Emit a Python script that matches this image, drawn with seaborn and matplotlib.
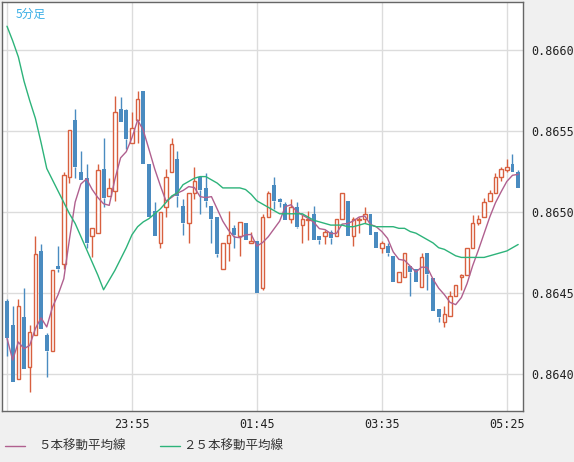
import numpy as np
import pandas as pd
import matplotlib
matplotlib.use("Agg")
import matplotlib.pyplot as plt
from matplotlib.lines import Line2D
import seaborn as sns

# OHLC in units of 0.00001
opens = [86445,86430,86397,86435,86404,86424,86476,86424,86414,86467,86468,86522,86557,86525,86521,86485,86487,86527,86510,86513,
         86564,86563,86543,86557,86575,86530,86501,86481,86503,86525,86533,86504,86493,86512,86522,86515,86504,86497,86465,86481,
         86490,86485,86493,86481,86482,86453,86497,86517,86508,86505,86496,86503,86492,86495,86499,86485,86485,86488,86485,86496,
         86507,86485,86495,86496,86499,86488,86478,86479,86473,86457,86460,86467,86465,86454,86475,86459,86440,86432,86436,86448,
         86460,86461,86478,86493,86497,86507,86512,86522,86526,86530,86525]
highs = [86446,86442,86446,86453,86430,86485,86480,86425,86464,86479,86525,86551,86564,86538,86530,86490,86530,86546,86521,86572,
         86571,86564,86562,86575,86575,86530,86506,86500,86527,86546,86538,86508,86512,86528,86522,86524,86504,86497,86481,86501,
         86492,86494,86493,86488,86482,86499,86513,86522,86509,86506,86508,86506,86498,86501,86504,86485,86489,86489,86496,86512,
         86507,86497,86497,86503,86499,86488,86482,86481,86473,86463,86475,86467,86465,86475,86475,86459,86440,86442,86451,86455,
         86462,86478,86498,86498,86509,86514,86524,86528,86533,86536,86526]
lows = [86411,86395,86397,86403,86389,86424,86428,86398,86414,86463,86465,86518,86521,86520,86478,86472,86487,86503,86510,86507,
        86556,86539,86543,86543,86530,86497,86485,86478,86497,86525,86503,86486,86481,86508,86499,86503,86481,86472,86465,86470,
        86478,86473,86483,86481,86450,86452,86497,86502,86503,86495,86493,86490,86481,86483,86483,86480,86480,86480,86485,86496,
        86485,86479,86487,86493,86486,86478,86475,86473,86457,86457,86460,86448,86457,86454,86452,86439,86432,86429,86436,86448,
        86452,86461,86478,86492,86497,86507,86512,86519,86525,86525,86515]
closes = [86422,86395,86442,86403,86426,86474,86428,86414,86464,86465,86523,86551,86528,86520,86481,86490,86526,86509,86515,86562,
          86556,86545,86552,86570,86530,86497,86485,86500,86522,86542,86510,86493,86512,86519,86514,86507,86496,86474,86481,86486,
          86486,86494,86483,86482,86450,86497,86512,86507,86506,86495,86503,86491,86496,86496,86483,86483,86488,86484,86496,86512,
          86485,86496,86496,86499,86486,86478,86481,86475,86457,86463,86475,86463,86457,86472,86462,86439,86435,86437,86448,86455,
          86461,86478,86493,86496,86506,86512,86522,86527,86528,86525,86515]
ma25 = [86615,86606,86596,86581,86569,86558,86543,86527,86520,86513,86506,86499,86493,86485,86477,86469,86461,86452,86458,86464,
        86471,86478,86486,86491,86494,86496,86499,86502,86506,86510,86512,86517,86519,86521,86522,86522,86520,86518,86515,86515,
        86515,86515,86514,86511,86507,86505,86503,86501,86499,86499,86499,86499,86499,86497,86495,86494,86493,86492,86492,86492,
        86491,86491,86492,86493,86492,86491,86491,86491,86491,86490,86490,86488,86487,86485,86483,86481,86478,86477,86475,86473,
        86472,86472,86472,86472,86472,86473,86474,86475,86476,86478,86480]
tick_idx = [22, 44, 66, 88]
tick_labels = ["23:55", "01:45", "03:35", "05:25"]
ytick_vals = [0.8640, 0.8645, 0.8650, 0.8655, 0.8660]

sc = 1e-5
df = pd.DataFrame({"i": np.arange(len(closes)),
                   "o": np.array(opens) * sc, "h": np.array(highs) * sc,
                   "l": np.array(lows) * sc, "c": np.array(closes) * sc,
                   "ma25": np.array(ma25) * sc})
df["ma5"] = df["c"].rolling(5, min_periods=1).mean()

sns.set_style("white")
plt.rcParams['font.family'] = ['Noto Sans CJK JP', 'DejaVu Sans']

fig = plt.figure(figsize=(5.74, 4.62), dpi=100, facecolor="#f0f0f0")
ax = fig.add_axes([2/574, 1 - 411/462, 521/574, 409/462])
ax.set_facecolor("white")

ax.set_xlim(-0.88, 90.85)
ax.set_ylim(0.86377, 0.86630)

for x in [0] + tick_idx:
    ax.axvline(x, color="#dcdcdc", lw=1, zorder=0)
for y in ytick_vals:
    ax.axhline(y, color="#dcdcdc", lw=1, zorder=0)

red = "#d8603f"
blue = "#4a8bc0"
for r in df.itertuples():
    col = red if r.c >= r.o else blue
    top, bot = max(r.o, r.c), min(r.o, r.c)
    ax.vlines(r.i, r.l, bot, color=col, lw=1, zorder=2)
    ax.vlines(r.i, top, r.h, color=col, lw=1, zorder=2)
    if r.c >= r.o:
        ax.bar(r.i, max(top - bot, 0.000004), bottom=bot, width=0.62, facecolor="white",
               edgecolor=red, lw=1, zorder=3)
    else:
        ax.bar(r.i, max(top - bot, 0.000004), bottom=bot, width=0.7, color=blue, lw=0, zorder=3)

sns.lineplot(data=df, x="i", y="ma5", ax=ax, color="#b0608f", lw=1, zorder=4)
sns.lineplot(data=df, x="i", y="ma25", ax=ax, color="#2db37a", lw=1, zorder=4)

ax.set_xlabel("")
ax.set_ylabel("")
ax.set_xticks(tick_idx)
ax.set_xticklabels(tick_labels, fontsize=8.5, family="DejaVu Sans Mono", color="#222222")
ax.yaxis.tick_right()
ax.set_yticks(ytick_vals)
ax.set_yticklabels([f"{v:.4f}" for v in ytick_vals], fontsize=8.5, family="DejaVu Sans Mono", color="#222222")
ax.tick_params(axis="y", length=0, pad=6)
ax.tick_params(axis="x", length=0, pad=5)
for s in ax.spines.values():
    s.set_color("#666666")
    s.set_linewidth(1)

ax.text(14/521, 1 - 6/409, "5分足", transform=ax.transAxes, color="#3aaee6",
        fontsize=8.5, va="top", ha="left")

fig.add_artist(Line2D([5/574, 25/574], [1 - 446/462] * 2, color="#b0608f", lw=1))
fig.text(38/574, 1 - 446/462, "５本移動平均線", fontsize=9, va="center", color="#333333")
fig.add_artist(Line2D([160/574, 180/574], [1 - 446/462] * 2, color="#2db37a", lw=1))
fig.text(183/574, 1 - 446/462, "２５本移動平均線", fontsize=9, va="center", color="#333333")

fig.savefig("out.png", dpi=100, facecolor=fig.get_facecolor())
